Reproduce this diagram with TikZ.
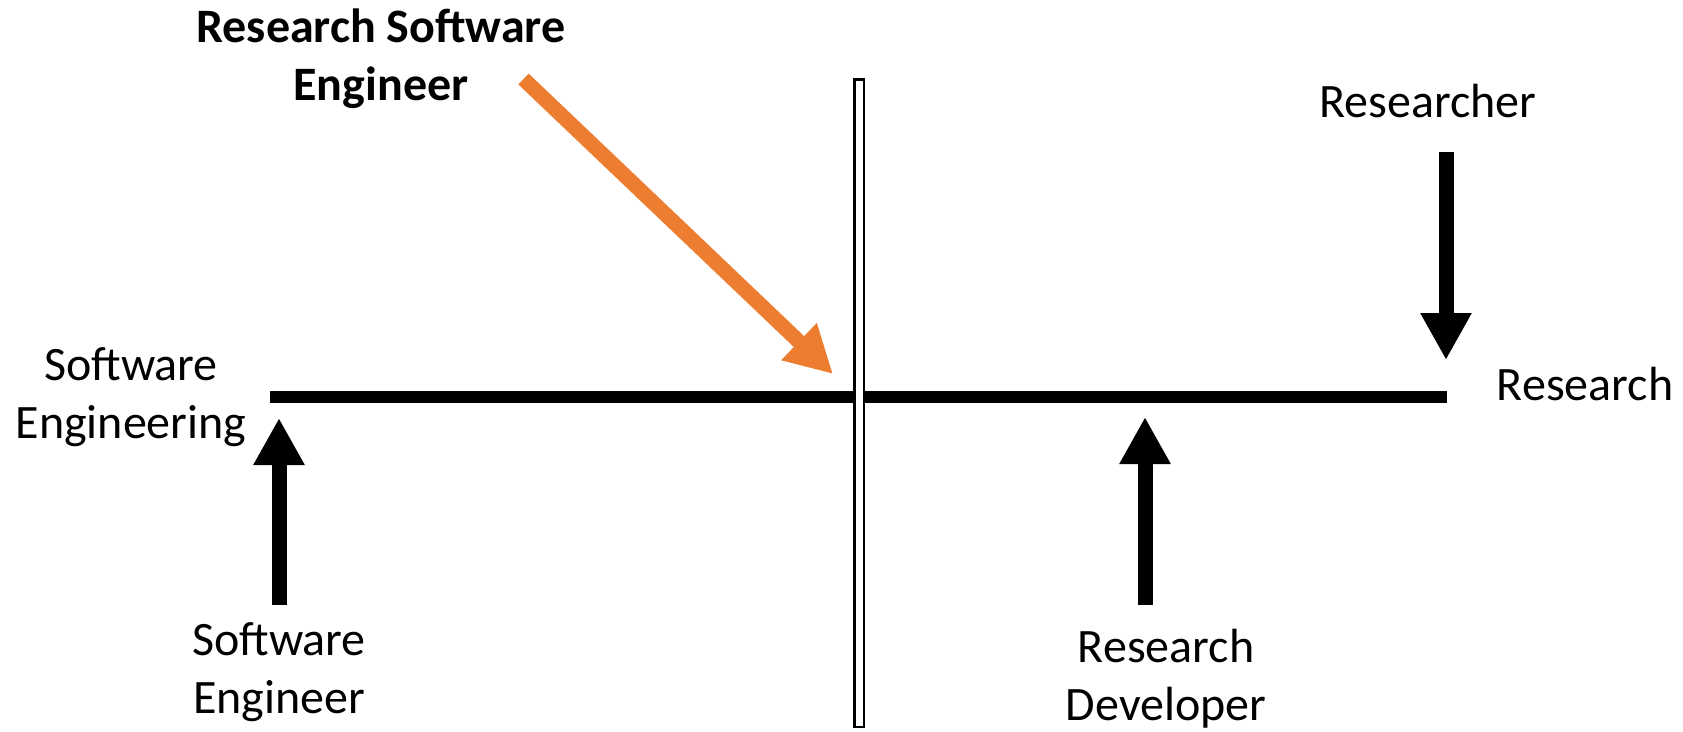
\documentclass[tikz,border=0pt]{standalone}
\usepackage{fontspec}
\setmainfont{Carlito}
\usetikzlibrary{arrows.meta}
\definecolor{rseorange}{HTML}{ED7D31}
\tikzstyle{caption}=[align=center,inner sep=0pt,font=\fontsize{48}{58}\selectfont]
\tikzstyle{boldcaption}=[caption,font=\fontsize{48}{58}\selectfont\bfseries]
\tikzstyle{pointer}=[line width=15pt,-{Triangle[length=47pt,width=48pt]}]
\tikzstyle{rsepointer}=[pointer,draw=rseorange]
\tikzstyle{spectrum}=[line width=12pt]
\tikzstyle{divider}=[draw=black,fill=white,line width=2.5pt]

\begin{document}
\begin{tikzpicture}[x=1pt,y=-1pt]
                    \useasboundingbox (0,0) rectangle (1683,731);

                    \node (sweng) at (131,397) [caption] {Software\\Engineering};
                    \node (res) at (1585,384) [caption] {Research};
                    \node (rse) at (381,59) [boldcaption] {Research Software\\Engineer};
                    \node (rsr) at (1428,101) [caption] {Researcher};
                    \node (swe) at (279,672) [caption] {Software\\Engineer};
                    \node (rdev) at (1166,679) [caption] {Research\\Developer};

                    \coordinate (left) at (270,397);
                    \coordinate (right) at (1447,397);
                    \draw [spectrum] (left) -- (right);
                    \draw [divider] (854.25,79.25) rectangle (863.75,726.75);

                    \coordinate (swetail) at (279,605);
                    \coordinate (swetip) at (279,418);
                    \coordinate (rdevtail) at (1145,605);
                    \coordinate (rdevtip) at (1145,417);
                    \coordinate (rsrtail) at (1446,152);
                    \coordinate (rsrtip) at (1446,360);
                    \coordinate (rsetail) at (523.5,79);
                    \coordinate (rsetip) at (833,374);

                    \draw [pointer] (swetail) -- (swetip);
                    \draw [pointer] (rdevtail) -- (rdevtip);
                    \draw [pointer] (rsrtail) -- (rsrtip);
                    \draw [rsepointer] (rsetail) -- (rsetip);
                \end{tikzpicture}
\end{document}
